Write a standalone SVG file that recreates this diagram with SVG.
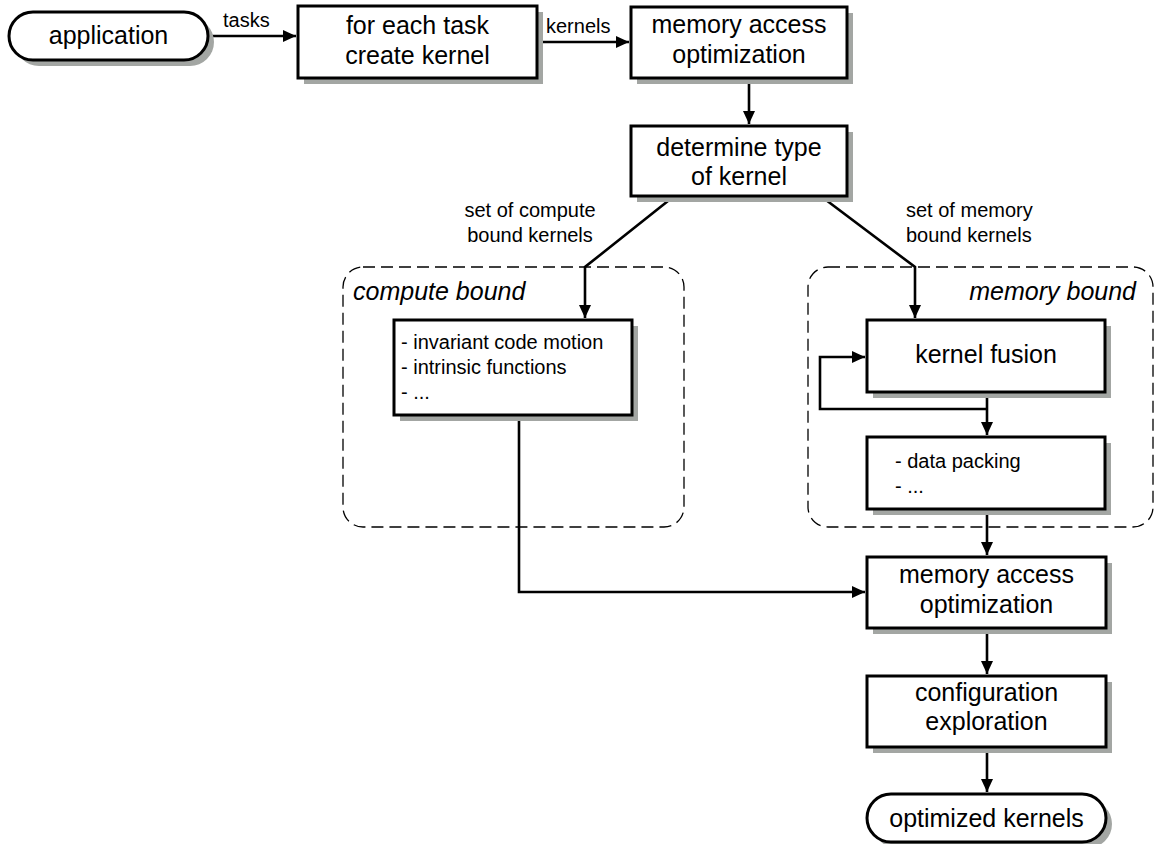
<svg xmlns="http://www.w3.org/2000/svg" width="1155" height="844" viewBox="0 0 1155 844">
<defs>
<marker id="ah" markerWidth="14" markerHeight="12" refX="13" refY="6" orient="auto" markerUnits="userSpaceOnUse">
<path d="M0,0 L13,6 L0,12 Z" fill="#000"/>
</marker>
<style>
.box{fill:#fff;stroke:#000;stroke-width:3}
.sh{fill:#a3a6a3;stroke:none}
.grp{fill:none;stroke:#000;stroke-width:1.3;stroke-dasharray:12 6}
.c{fill:none;stroke:#000;stroke-width:2.6}
.t{font-family:"Liberation Sans",Arial,sans-serif;font-size:25px;fill:#000;text-anchor:middle}
.s{font-family:"Liberation Sans",Arial,sans-serif;font-size:20px;fill:#000}
.i{font-family:"Liberation Sans",Arial,sans-serif;font-size:25px;font-style:italic;fill:#000}
</style>
</defs>
<rect width="1155" height="844" fill="#fff"/>

<g id="group-compute">
<rect class="grp" x="343" y="267" width="341" height="260" rx="20"/>
<text class="i" x="353" y="300">compute bound</text>
</g>
<g id="group-memory">
<rect class="grp" x="808" y="267" width="345" height="260" rx="20"/>
<text class="i" x="1136" y="300" text-anchor="end">memory bound</text>
</g>

<g id="connectors">
<path class="c" d="M208,36 H296" marker-end="url(#ah)"/>
<path class="c" d="M537,42 H629" marker-end="url(#ah)"/>
<path class="c" d="M749,78 V124" marker-end="url(#ah)"/>
<path class="c" d="M673,197 L585,267 V318" marker-end="url(#ah)"/>
<path class="c" d="M822,197 L915,267 V318" marker-end="url(#ah)"/>
<path class="c" d="M987,392 V435" marker-end="url(#ah)"/>
<path class="c" d="M987,409 H820 V357 H865" marker-end="url(#ah)"/>
<path class="c" d="M519,416 V592 H865" marker-end="url(#ah)"/>
<path class="c" d="M987,509 V555" marker-end="url(#ah)"/>
<path class="c" d="M987,628 V674" marker-end="url(#ah)"/>
<path class="c" d="M987,747 V792" marker-end="url(#ah)"/>
<text class="s" x="223" y="27">tasks</text>
<text class="s" x="546" y="33">kernels</text>
<text class="s" x="530" y="217" text-anchor="middle">set of compute</text>
<text class="s" x="530" y="242" text-anchor="middle">bound kernels</text>
<text class="s" x="906" y="217">set of memory</text>
<text class="s" x="906" y="242">bound kernels</text>
</g>

<g id="application">
<rect class="sh" x="15" y="18" width="199" height="48" rx="24"/>
<rect class="box" x="9" y="12" width="199" height="48" rx="24"/>
<text class="t" x="108.5" y="44">application</text>
</g>

<g id="create-kernel">
<rect class="sh" x="304" y="12" width="239" height="72"/>
<rect class="box" x="298" y="6" width="239" height="72"/>
<text class="t" x="417.5" y="34">for each task</text>
<text class="t" x="417.5" y="64">create kernel</text>
</g>

<g id="mem-access-1">
<rect class="sh" x="637" y="13" width="216" height="71"/>
<rect class="box" x="631" y="7" width="216" height="71"/>
<text class="t" x="739" y="33">memory access</text>
<text class="t" x="739" y="63">optimization</text>
</g>

<g id="determine-type">
<rect class="sh" x="637" y="132" width="216" height="70"/>
<rect class="box" x="631" y="126" width="216" height="70"/>
<text class="t" x="739" y="156">determine type</text>
<text class="t" x="739" y="185">of kernel</text>
</g>

<g id="compute-opts">
<rect class="sh" x="400" y="326" width="238" height="95"/>
<rect class="box" x="394" y="320" width="238" height="95"/>
<text class="s" x="401" y="349">- invariant code motion</text>
<text class="s" x="401" y="374">- intrinsic functions</text>
<text class="s" x="401" y="399">- ...</text>
</g>

<g id="kernel-fusion">
<rect class="sh" x="873" y="326" width="238" height="72"/>
<rect class="box" x="867" y="320" width="238" height="72"/>
<text class="t" x="986" y="363">kernel fusion</text>
</g>

<g id="data-packing">
<rect class="sh" x="873" y="443" width="238" height="72"/>
<rect class="box" x="867" y="437" width="238" height="72"/>
<text class="s" x="895" y="468">- data packing</text>
<text class="s" x="895" y="493">- ...</text>
</g>

<g id="mem-access-2">
<rect class="sh" x="873" y="563" width="239" height="71"/>
<rect class="box" x="867" y="557" width="239" height="71"/>
<text class="t" x="986.5" y="583">memory access</text>
<text class="t" x="986.5" y="613">optimization</text>
</g>

<g id="config-exploration">
<rect class="sh" x="873" y="682" width="239" height="71"/>
<rect class="box" x="867" y="676" width="239" height="71"/>
<text class="t" x="986.5" y="701">configuration</text>
<text class="t" x="986.5" y="730">exploration</text>
</g>

<g id="optimized-kernels">
<rect class="sh" x="873" y="800" width="239" height="48" rx="24"/>
<rect class="box" x="867" y="794" width="239" height="48" rx="24"/>
<text class="t" x="986.5" y="827">optimized kernels</text>
</g>
</svg>
